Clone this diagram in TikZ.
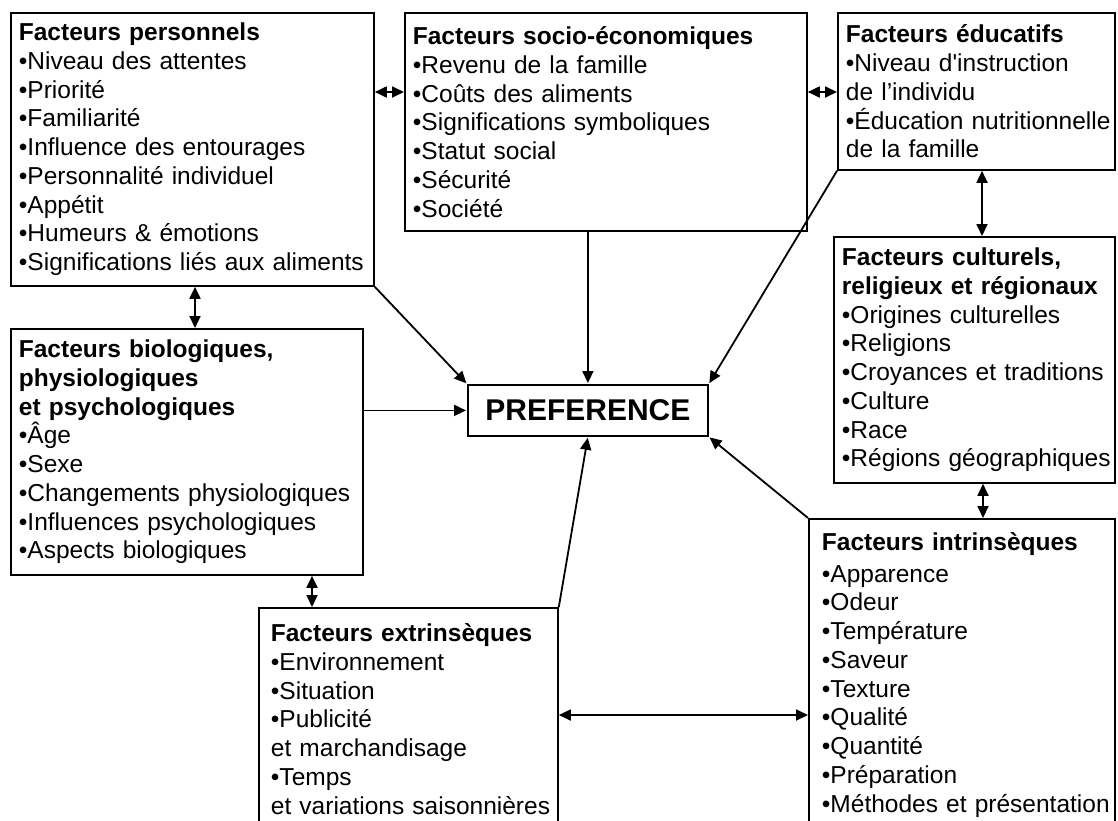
\documentclass[tikz,border=0pt]{standalone}
\usepackage{fontspec}
\setmainfont{Liberation Sans}
\usetikzlibrary{arrows.meta}

\newcommand{\puce}[1]{\mbox{\textbullet#1}}

\begin{document}
\begin{tikzpicture}[
        x=1pt, y=-1pt,
        facteur/.style={draw, line width=1.8pt, anchor=north west, align=left,
                        inner xsep=8pt, inner ysep=0pt,
                        font=\fontsize{24.5}{28.75}\selectfont},
        lien/.style={-{Triangle[length=12pt,width=11pt]}, line width=1.8pt, shorten >=1pt},
        bilien/.style={{Triangle[length=12pt,width=11pt]}-{Triangle[length=12pt,width=11pt]}, line width=1.8pt}
    ]

    \useasboundingbox (0,0) rectangle (1118,820);

    \node[facteur, text width=347pt, minimum height=273pt] (perso) at (10,12)
        {\textbf{Facteurs personnels}\\
         \puce{Niveau des attentes}\\
         \puce{Priorité}\\
         \puce{Familiarité}\\
         \puce{Influence des entourages}\\
         \puce{Personnalité individuel}\\
         \puce{Appétit}\\
         \puce{Humeurs \& émotions}\\
         \puce{Significations liés aux aliments}};

    \node[facteur, text width=386pt, minimum height=218pt] (socio) at (404,12)
        {\textbf{Facteurs socio-économiques}\\
         \puce{Revenu de la famille}\\
         \puce{Coûts des aliments}\\
         \puce{Significations symboliques}\\
         \puce{Statut social}\\
         \puce{Sécurité}\\
         \puce{Société}};

    \node[facteur, text width=261pt, minimum height=157pt] (educ) at (837,12)
        {\textbf{Facteurs éducatifs}\\
         \puce{Niveau d\textquotesingle instruction}\\
         \mbox{de l’individu}\\
         \puce{Éducation nutritionnelle}\\
         \mbox{de la famille}};

    \node[facteur, text width=265pt, minimum height=246pt] (cult) at (833,236)
        {\textbf{Facteurs culturels,}\\
         \textbf{religieux et régionaux}\\
         \puce{Origines culturelles}\\
         \puce{Religions}\\
         \puce{Croyances et traditions}\\
         \puce{Culture}\\
         \puce{Race}\\
         \puce{Régions géographiques}};

    \node[facteur, text width=336pt, minimum height=246pt] (bio) at (10,328)
        {\textbf{Facteurs biologiques,}\\
         \textbf{physiologiques}\\
         \textbf{et psychologiques}\\
         \puce{Âge}\\
         \puce{Sexe}\\
         \puce{Changements physiologiques}\\
         \puce{Influences psychologiques}\\
         \puce{Aspects biologiques}};

    \node[draw, line width=1.8pt, anchor=north west, minimum width=240pt, minimum height=51pt,
          font=\fontsize{30}{36}\selectfont\bfseries] (pref) at (467,384) {PREFERENCE};

    \node[facteur, inner xsep=12pt, text width=275pt, minimum height=222pt] (extr) at (258,607)
        {\textbf{Facteurs extrinsèques}\\
         \puce{Environnement}\\
         \puce{Situation}\\
         \puce{Publicité}\\
         \mbox{et marchandisage}\\
         \puce{Temps}\\
         \mbox{et variations saisonnières}};

    \node[facteur, inner xsep=13pt, text width=280pt, minimum height=312pt] (intr) at (808,518)
        {\textbf{Facteurs intrinsèques}\\[3pt]
         \puce{Apparence}\\
         \puce{Odeur}\\
         \puce{Température}\\
         \puce{Saveur}\\
         \puce{Texture}\\
         \puce{Qualité}\\
         \puce{Quantité}\\
         \puce{Préparation}\\
         \puce{Méthodes et présentation}};

    % liens entre facteurs
    \draw[bilien] (perso.east |- 0,92) -- (socio.west |- 0,92);
    \draw[bilien] (socio.east |- 0,92) -- (educ.west |- 0,92);
    \draw[bilien] (educ.south -| 982,0) -- (cult.north -| 982,0);
    \draw[bilien] (perso.south -| 195,0) -- (bio.north -| 195,0);
    \draw[bilien] (bio.south -| 312,0) -- (extr.north -| 312,0);
    \draw[bilien] (cult.south -| 983,0) -- (intr.north -| 983,0);
    \draw[bilien] (extr.east |- 0,715) -- (intr.west |- 0,715);

    % vers la preference
    \draw[lien] (perso.south east) -- (pref.north west);
    \draw[lien] (socio.south -| pref.north) -- (pref.north);
    \draw[lien] (educ.south west) -- (pref.north east);
    \draw[lien] (bio.east |- pref.west) -- (pref.west);
    \draw[lien] (extr.north east) -- (pref.south);
    \draw[lien] (intr.north west) -- (pref.south east);
\end{tikzpicture}
\end{document}
